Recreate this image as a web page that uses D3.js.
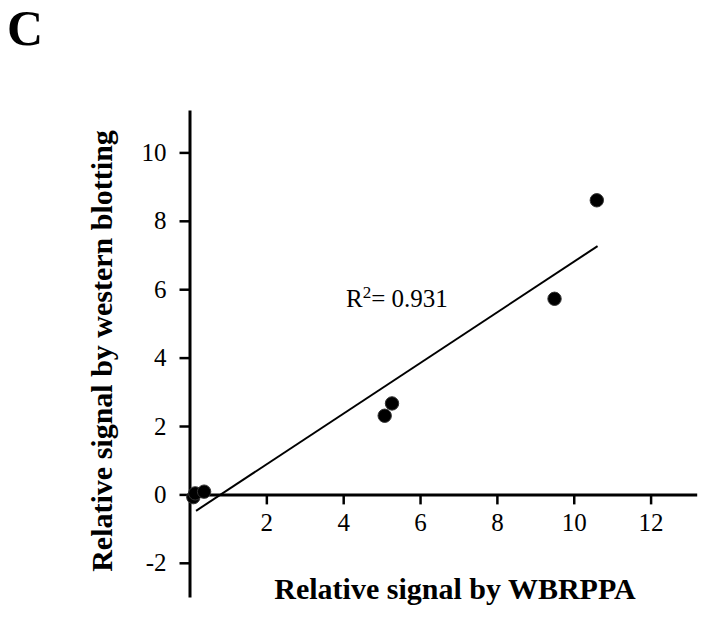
<!DOCTYPE html>
<html>
<head>
<meta charset="utf-8">
<script src="https://cdn.jsdelivr.net/npm/d3@7"></script>
<style>
  body { margin: 0; background: #fff; }
  svg text { font-family: "Liberation Serif", "Times New Roman", serif; fill: #000; }
</style>
</head>
<body>
<div id="chart"></div>
<script>
// values
const wbrppa = [0.1, 0.15, 0.38, 5.08, 5.27, 9.5, 10.6];
const western = [-0.08, 0.03, 0.08, 2.3, 2.66, 5.72, 8.6];
const xTicks = [2, 4, 6, 8, 10, 12];
const yTicks = [-2, 0, 2, 4, 6, 8, 10];
// fitted line drawn in the figure, endpoints in data units
const fitX = [0.17, 10.62];
const fitY = [-0.48, 7.26];
const rSquared = "0.931";

function drawScatter() {
    const width = 714;
    const height = 617;

    const svg = d3.select("#chart")
        .append("svg")
        .attr("width", width)
        .attr("height", height);

    const x = d3.scaleLinear().domain([0, 13.2]).range([189.5, 696.7]);
    const y = d3.scaleLinear().domain([-3, 11.24]).range([597, 110]);

    // panel letter
    svg.append("text")
        .attr("x", 7)
        .attr("y", 45)
        .attr("font-size", 50)
        .attr("font-weight", "bold")
        .text("C");

    // y axis
    const yAxis = svg.append("g")
        .attr("transform", `translate(${x(0)},0)`)
        .call(d3.axisLeft(y).tickValues(yTicks).tickSize(10).tickSizeOuter(0).tickPadding(13)
            .tickFormat(d => d < 0 ? "-" + Math.abs(d) : d));
    yAxis.select(".domain").attr("stroke-width", 3);
    yAxis.selectAll(".tick line").attr("stroke-width", 2.5);
    yAxis.selectAll("text").attr("font-size", 25).style("font-family", "Liberation Serif");

    // x axis
    const xAxis = svg.append("g")
        .attr("transform", `translate(0,${y(0)})`)
        .call(d3.axisBottom(x).tickValues(xTicks).tickSize(10).tickSizeOuter(0).tickPadding(9));
    xAxis.select(".domain").attr("stroke-width", 3);
    xAxis.selectAll(".tick line").attr("stroke-width", 2.5);
    xAxis.selectAll("text").attr("font-size", 25).style("font-family", "Liberation Serif");

    // regression line
    svg.append("line")
        .attr("x1", x(fitX[0]))
        .attr("y1", y(fitY[0]))
        .attr("x2", x(fitX[1]))
        .attr("y2", y(fitY[1]))
        .attr("stroke", "#000")
        .attr("stroke-width", 2);

    // points
    svg.selectAll("circle.pt")
        .data(wbrppa.map((d, i) => [d, western[i]]))
        .enter()
        .append("circle")
        .attr("class", "pt")
        .attr("cx", d => x(d[0]))
        .attr("cy", d => y(d[1]))
        .attr("r", 6.7)
        .attr("fill", "#000")
        .attr("stroke", "#333")
        .attr("stroke-width", 1);

    // R squared label
    const r2 = svg.append("text")
        .attr("x", 346)
        .attr("y", 307)
        .attr("font-size", 25);
    r2.append("tspan").text("R");
    r2.append("tspan").attr("font-size", 17).attr("dy", -9).text("2");
    r2.append("tspan").attr("dy", 9).text("= " + rSquared);

    // axis titles
    svg.append("text")
        .attr("x", 455)
        .attr("y", 599)
        .attr("text-anchor", "middle")
        .attr("font-size", 30)
        .attr("font-weight", "bold")
        .text("Relative signal by WBRPPA");

    svg.append("text")
        .attr("transform", "translate(112,351) rotate(-90)")
        .attr("text-anchor", "middle")
        .attr("font-size", 30)
        .attr("font-weight", "bold")
        .text("Relative signal by western blotting");
}

drawScatter();
</script>
</body>
</html>
